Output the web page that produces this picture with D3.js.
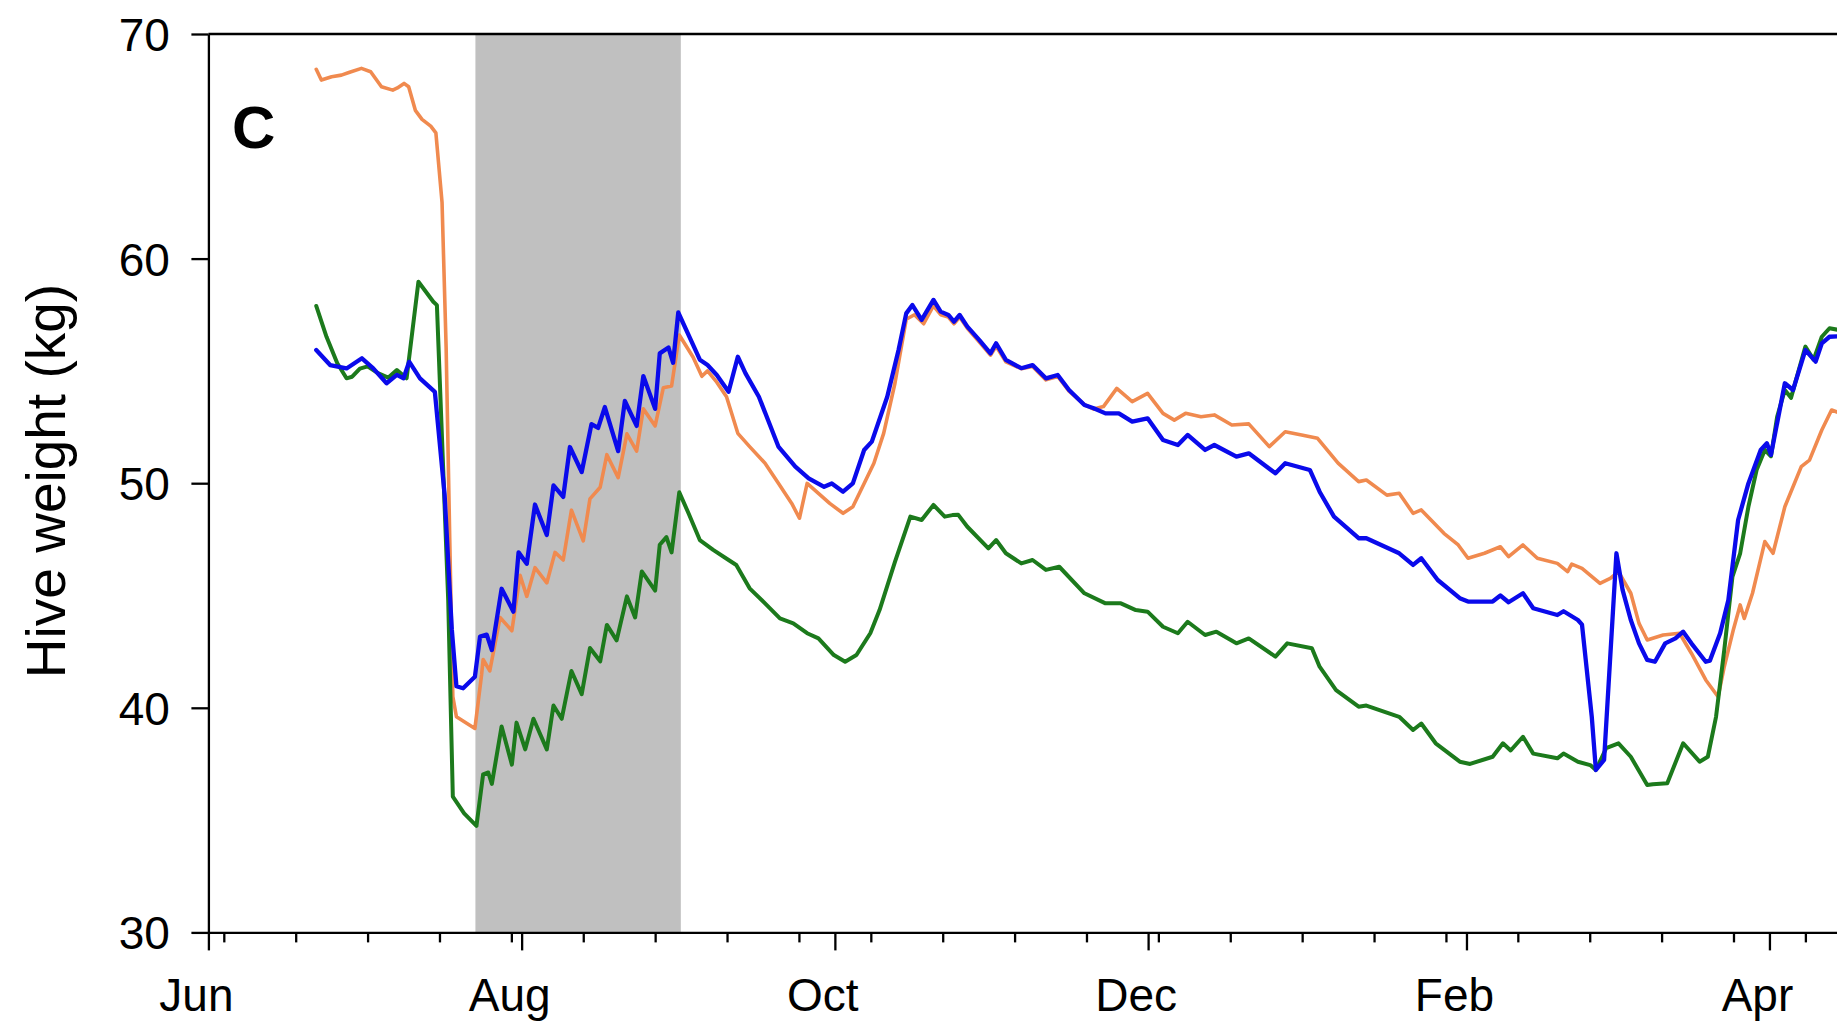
<!DOCTYPE html>
<html>
<head>
<meta charset="utf-8">
<script src="https://cdn.jsdelivr.net/npm/d3@7"></script>
<style>
  html, body { margin: 0; padding: 0; background: #fff; }
  svg { display: block; }
  text { font-family: "Liberation Sans", Arial, Helvetica, sans-serif; fill: #000; }
</style>
</head>
<body>
<svg id="chart" width="1837" height="1021"></svg>
<script>
// Season starts 1 June; every series is given as (day since 1 June, hive weight in kg).
const seasonStart = Date.UTC(2014, 5, 1);

const monthLabels = ["Jun", "Aug", "Oct", "Dec", "Feb", "Apr"];
const weightTicks = [30, 40, 50, 60, 70];
const flowPeriod = [52, 92];          // shaded period, days since 1 June
const panelLetter = "C";
const yTitle = "Hive weight (kg)";

const orangeDays = [21.0, 22.0, 24.0, 25.9, 27.5, 29.8, 31.6, 33.7, 35.9, 36.8, 38.1, 39.0, 40.3, 41.6, 43.3, 44.3,
  45.5, 46.3, 47.0, 47.6, 48.3, 51.9, 53.2, 53.5, 54.8, 56.8, 59.1, 60.7, 62.0, 63.6, 65.9, 67.5, 69.1, 70.7, 73.0,
  74.3, 76.3, 77.6, 79.8, 81.5, 83.4, 84.7, 87.0, 88.6, 90.2, 91.7, 94.4, 96.1, 97.2, 99.0, 100.9, 103.1, 105.4,
  108.4, 111.0, 113.6, 115.1, 116.6, 118.8, 121.0, 123.6, 125.5, 127.7, 129.6, 131.5, 133.7, 135.9, 137.5, 139.3,
  141.2, 142.6, 144.1, 145.2, 146.3, 147.8, 150.1, 152.3, 153.4, 155.3, 158.3, 160.5, 163.1, 165.4, 167.6, 170.6,
  172.4, 174.3, 176.9, 179.9, 182.9, 185.9, 188.1, 190.3, 193.3, 195.9, 199.3, 202.6, 206.6, 209.7, 212.9, 216.0,
  220.0, 224.0, 225.5, 229.5, 231.9, 234.6, 236.2, 240.6, 243.4, 245.3, 248.5, 251.6, 253.2, 256.0, 258.8, 262.7,
  264.7, 265.5, 267.5, 271.0, 273.0, 274.6, 277.0, 278.6, 280.2, 283.3, 286.5, 288.8, 291.6, 294.0, 295.2, 297.0,
  298.3, 299.1, 300.7, 303.1, 304.7, 307.0, 310.2, 311.8, 314.2, 316.1, 318.0];
const orangeKg = [68.43, 67.95, 68.1, 68.17, 68.3, 68.47, 68.32, 67.65, 67.5, 67.6, 67.8, 67.65, 66.6, 66.2, 65.9, 65.6,
  62.5, 56.0, 47.5, 40.5, 39.6, 39.08, 41.47, 42.15, 41.64, 44.02, 43.43, 45.9, 44.96, 46.24, 45.56, 46.92, 46.58, 48.8, 47.43,
  49.3, 49.82, 51.27, 50.25, 52.2, 51.43, 53.31, 52.55, 54.25, 54.33, 56.6, 55.61, 54.76, 55.0, 54.5, 53.85, 52.22, 51.63,
  50.89, 50.0, 49.1, 48.44, 49.99, 49.55, 49.1, 48.66, 48.95, 49.99, 50.89, 52.22, 54.45, 57.3, 57.5, 57.1,
  57.9, 57.5, 57.4, 57.1, 57.4, 56.9, 56.3, 55.7, 56.1, 55.4, 55.1, 55.2, 54.6, 54.75, 54.1, 53.5,
  53.3, 53.41, 54.22, 53.63, 54.0, 53.11, 52.81, 53.11, 52.96, 53.04, 52.59, 52.64, 51.63, 52.29, 52.15, 52.0,
  50.89, 50.07, 50.14, 49.47, 49.55, 48.66, 48.81, 47.77, 47.25, 46.66, 46.88, 47.17, 46.73, 47.25, 46.66, 46.43,
  46.06, 46.4, 46.21, 45.54, 45.76, 46.06, 45.1, 43.76, 43.02, 43.24, 43.32, 42.43, 41.24, 40.49, 41.83, 43.5,
  44.58, 43.98, 45.1, 47.4, 46.88, 48.95, 50.74, 51.03, 52.37, 53.26, 53.1];

const greenDays = [21.0, 23.0, 25.1, 26.9, 28.0, 29.5, 31.0, 33.0, 35.0, 36.7, 38.6, 40.9, 43.8, 44.5, 46.7, 47.6,
  49.8, 52.2, 53.5, 54.5, 55.2, 57.1, 59.1, 60.0, 61.7, 63.3, 65.9, 67.2, 68.8, 70.7, 72.7, 74.3, 76.3, 77.6, 79.5,
  81.5, 83.1, 84.4, 87.0, 87.9, 89.2, 90.2, 91.7, 93.5, 95.7, 98.3, 101.3, 102.8, 105.4, 108.4, 111.3, 113.9, 116.6,
  118.8, 121.8, 124.0, 126.2, 128.9, 130.7, 133.7, 136.7, 138.9, 141.2, 143.4, 144.9, 146.0, 147.8, 151.9, 153.4,
  155.3, 158.3, 160.5, 163.1, 165.7, 170.6, 174.7, 177.7, 180.6, 182.9, 185.9, 188.8, 190.7, 194.1, 196.3, 200.2,
  202.6, 207.8, 210.1, 214.9, 216.4, 219.6, 224.0, 225.5, 231.9, 234.6, 236.2, 239.0, 243.7, 245.7, 250.1, 252.1,
  253.6, 256.0, 258.0, 262.7, 263.9, 266.7, 269.1, 270.2, 272.2, 274.6, 277.0, 280.2, 281.3, 284.1, 287.2, 290.4,
  292.0, 293.6, 295.2, 296.8, 298.3, 299.9, 301.5, 303.1, 304.3, 305.5, 307.0, 308.2, 311.0, 312.6, 314.2, 315.7, 318.0];
const greenKg = [57.89, 56.52, 55.34, 54.67, 54.74, 55.1, 55.2, 54.9, 54.7, 55.04, 54.67, 58.97, 58.08, 57.93, 44.8, 36.04,
  35.3, 34.74, 37.04, 37.12, 36.61, 39.17, 37.47, 39.34, 38.15, 39.51, 38.15, 40.1, 39.51, 41.64, 40.61, 42.66, 42.07, 43.69, 43.0,
  44.96, 44.02, 46.07, 45.22, 47.26, 47.6, 46.92, 49.6, 48.66, 47.47, 47.03, 46.58, 46.36, 45.32, 44.65, 43.98, 43.76, 43.32,
  43.09, 42.35, 42.05, 42.35, 43.32, 44.35, 46.5, 48.51, 48.36, 49.03, 48.51, 48.58, 48.6, 48.06, 47.1, 47.47,
  46.88, 46.43, 46.58, 46.14, 46.28, 45.1, 44.65, 44.65, 44.35, 44.28, 43.61, 43.32, 43.83, 43.24, 43.39, 42.87,
  43.09, 42.28, 42.87, 42.65, 41.83, 40.79, 40.05, 40.1, 39.6, 39.01, 39.3, 38.42, 37.6, 37.5, 37.82, 38.42,
  38.1, 38.71, 37.96, 37.75, 37.96, 37.6, 37.45, 37.23, 38.2, 38.42, 37.82, 36.56, 36.6, 36.64, 38.42, 37.6,
  37.82, 39.6, 42.57, 45.84, 46.88, 48.95, 50.59, 51.48, 51.2, 52.96, 54.15, 53.8, 56.08, 55.5, 56.52, 56.9, 56.8];

const blueDays = [21.0, 23.7, 26.9, 29.9, 32.1, 34.7, 36.7, 38.0, 39.1, 41.2, 44.1, 46.0, 47.4, 48.3, 49.6, 51.9,
  52.9, 54.2, 55.2, 57.1, 59.4, 60.4, 62.0, 63.6, 65.9, 67.2, 69.1, 70.4, 72.7, 74.6, 75.9, 77.2, 79.8, 81.1, 83.4,
  84.7, 87.0, 87.9, 89.6, 90.5, 91.5, 94.1, 95.7, 97.2, 99.0, 101.3, 103.1, 104.6, 107.2, 111.0, 114.3, 116.9, 119.9,
  121.4, 123.6, 125.5, 127.7, 129.2, 132.2, 134.4, 135.9, 137.1, 138.9, 141.2, 142.6, 144.1, 145.2, 146.3, 147.8,
  150.1, 152.3, 153.4, 155.3, 158.3, 160.5, 163.1, 165.4, 167.6, 170.6, 172.4, 174.7, 177.3, 179.9, 182.9, 185.9,
  188.8, 190.7, 194.1, 195.9, 200.2, 202.6, 207.8, 209.7, 214.5, 216.4, 219.2, 224.0, 225.5, 231.9, 234.6, 236.2,
  239.4, 243.7, 245.3, 250.1, 251.6, 253.2, 256.0, 258.0, 262.7, 263.9, 266.7, 267.5, 269.4, 270.2, 271.8, 274.2,
  275.4, 277.0, 278.6, 280.2, 281.7, 283.7, 285.7, 287.2, 288.8, 291.6, 292.4, 294.4, 296.0, 297.9, 299.9, 302.3,
  303.5, 304.3, 307.0, 308.6, 311.0, 313.0, 314.2, 315.7, 318.0];
const blueKg = [55.93, 55.26, 55.11, 55.56, 55.11, 54.45, 54.82, 54.67, 55.41, 54.67, 54.07, 49.5, 43.5, 40.96, 40.87, 41.38,
  43.17, 43.26, 42.57, 45.3, 44.28, 46.92, 46.41, 49.05, 47.69, 49.9, 49.39, 51.61, 50.5, 52.63, 52.46, 53.39, 51.43, 53.66, 52.55,
  54.77, 53.31, 55.78, 56.04, 55.36, 57.6, 56.3, 55.5, 55.26, 54.82, 54.07, 55.63, 54.89, 53.85, 51.63, 50.74, 50.22, 49.84,
  49.99, 49.62, 49.99, 51.48, 51.85, 53.85, 55.93, 57.56, 57.93, 57.27, 58.16, 57.64, 57.49, 57.19, 57.49, 56.97,
  56.38, 55.78, 56.23, 55.49, 55.12, 55.26, 54.67, 54.82, 54.15, 53.48, 53.34, 53.11, 53.11, 52.74, 52.89, 51.92,
  51.7, 52.15, 51.48, 51.7, 51.18, 51.33, 50.44, 50.89, 50.59, 49.62, 48.51, 47.55, 47.55, 46.88, 46.36, 46.66,
  45.69, 44.88, 44.73, 44.73, 45.0, 44.7, 45.1, 44.43, 44.13, 44.3, 43.91, 43.7, 39.6, 37.23, 37.68, 46.88,
  45.25, 43.91, 42.87, 42.13, 42.05, 42.87, 43.09, 43.39, 42.87, 42.05, 42.1, 43.32, 44.8, 48.36, 49.99, 51.48,
  51.78, 51.26, 54.45, 54.15, 55.93, 55.41, 56.23, 56.52, 56.55];

const series = [
  { days: orangeDays, kg: orangeKg, color: "#f08a4f", width: 3.6 },
  { days: greenDays,  kg: greenKg,  color: "#1c7a1c", width: 4.0 },
  { days: blueDays,   kg: blueKg,   color: "#0a0aeb", width: 4.3 }
];

const toDate = d => new Date(seasonStart + d * 864e5);

// Layout
const W = 1837, H = 1021;
const plotLeft = 208.4, plotTop = 34, plotBottom = 932.4;
const pxPerDay = 5.135;
const lastDay = 330;

const svg = d3.select("#chart");
svg.append("rect").attr("width", W).attr("height", H).attr("fill", "#fff");

const x = d3.scaleUtc()
  .domain([toDate(0), toDate(lastDay)])
  .range([plotLeft, plotLeft + lastDay * pxPerDay]);
const y = d3.scaleLinear().domain([30, 70]).range([plotBottom, plotTop]);

// Shaded period
svg.append("rect")
  .attr("x", x(toDate(flowPeriod[0])))
  .attr("y", y(70))
  .attr("width", x(toDate(flowPeriod[1])) - x(toDate(flowPeriod[0])))
  .attr("height", y(30) - y(70))
  .attr("fill", "#c0c0c0");

// Weight curves
const line = d3.line()
  .x(d => x(d[0]))
  .y(d => y(d[1]));

series.forEach(s => {
  const pts = s.days.map((d, i) => [toDate(d), s.kg[i]]);
  svg.append("path")
    .datum(pts)
    .attr("fill", "none")
    .attr("stroke", s.color)
    .attr("stroke-width", s.width)
    .attr("stroke-linejoin", "round")
    .attr("stroke-linecap", "round")
    .attr("d", line);
});

const axisStroke = 2.3;

// Top frame line
svg.append("line")
  .attr("x1", plotLeft).attr("x2", W + 10)
  .attr("y1", y(70)).attr("y2", y(70))
  .attr("stroke", "#000").attr("stroke-width", axisStroke);

// Y axis
const yAxis = svg.append("g")
  .attr("transform", `translate(${plotLeft},0)`)
  .call(d3.axisLeft(y).tickValues(weightTicks).tickSize(17).tickSizeOuter(0).tickFormat(d3.format("d")));
yAxis.select(".domain").attr("stroke-width", axisStroke);
yAxis.selectAll(".tick line").attr("stroke-width", axisStroke);
yAxis.selectAll("text")
  .attr("x", -38.5).attr("dy", "0.36em")
  .style("font-size", "46px");

// X axis: biweekly minor ticks
const minorDates = d3.utcDay.range(toDate(3), toDate(lastDay), 14);
const xMinor = svg.append("g")
  .attr("transform", `translate(0,${plotBottom})`)
  .call(d3.axisBottom(x).tickValues(minorDates).tickSize(10).tickSizeOuter(0).tickFormat(""));
xMinor.select(".domain").remove();
xMinor.selectAll(".tick line").attr("stroke-width", axisStroke);

// X axis: bimonthly major ticks and labels
const majorDates = d3.utcMonth.range(toDate(0), toDate(lastDay), 2);
const xAxis = svg.append("g")
  .attr("transform", `translate(0,${plotBottom})`)
  .call(d3.axisBottom(x).tickValues(majorDates).tickSize(18).tickSizeOuter(0)
    .tickFormat((d, i) => monthLabels[i]));
xAxis.select(".domain").attr("stroke-width", axisStroke);
xAxis.selectAll(".tick line").attr("stroke-width", axisStroke);
xAxis.selectAll("text")
  .attr("y", 79).attr("dy", 0).attr("dx", -12.5)
  .style("font-size", "46px");

// Y axis title
svg.append("text")
  .attr("transform", `translate(65,481) rotate(-90)`)
  .attr("text-anchor", "middle")
  .style("font-size", "55px")
  .text(yTitle);

// Panel letter
svg.append("text")
  .attr("x", 232).attr("y", 148)
  .style("font-size", "60px")
  .style("font-weight", "bold")
  .text(panelLetter);
</script>
</body>
</html>
